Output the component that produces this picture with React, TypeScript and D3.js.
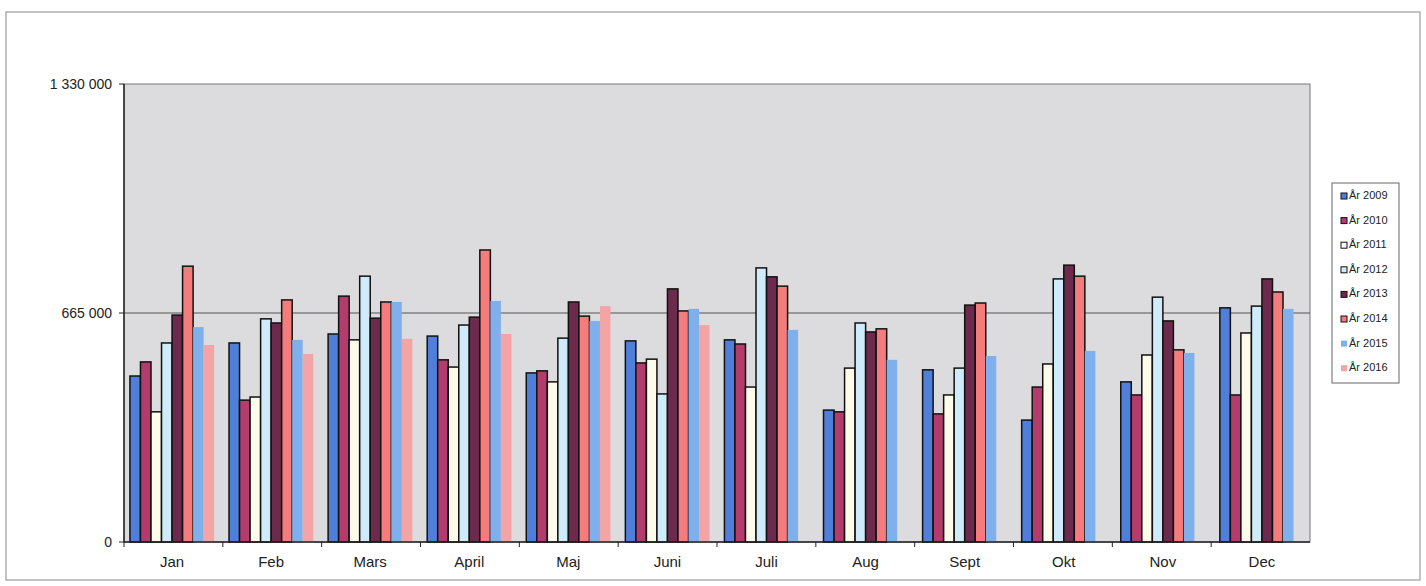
import * as d3 from "d3";

const months = ["Jan", "Feb", "Mars", "April", "Maj", "Juni", "Juli", "Aug", "Sept", "Okt", "Nov", "Dec"];
const years = ["År 2009", "År 2010", "År 2011", "År 2012", "År 2013", "År 2014", "År 2015", "År 2016"];
const y2009 = [482000, 578000, 604000, 598000, 491000, 584000, 587000, 383000, 500000, 354000, 465000, 680000];
const y2010 = [523000, 412000, 714000, 529000, 497000, 520000, 575000, 378000, 372000, 450000, 427000, 427000];
const y2011 = [378000, 421000, 587000, 508000, 465000, 531000, 450000, 505000, 427000, 517000, 543000, 607000];
const y2012 = [578000, 648000, 772000, 630000, 592000, 430000, 796000, 636000, 505000, 764000, 711000, 685000];
const y2013 = [659000, 636000, 650000, 653000, 697000, 735000, 770000, 610000, 688000, 804000, 642000, 764000];
const y2014 = [801000, 703000, 697000, 848000, 656000, 671000, 743000, 619000, 694000, 772000, 558000, 726000];
const y2015 = [624000, 587000, 697000, 700000, 642000, 677000, 616000, 529000, 540000, 555000, 549000, 677000];
const y2016 = [572000, 546000, 590000, 604000, 685000, 630000, null, null, null, null, null, null];
const series = [y2009, y2010, y2011, y2012, y2013, y2014, y2015, y2016];
const yTicks = [0, 665000, 1330000];

const fills = ["#4f7fd8", "#b23c6c", "#fffbea", "#cfeaf8", "#6c2a4c", "#f47c7c", "#7fb0ec", "#f4a4a4"];
const bordered = [true, true, true, true, true, true, false, false];

const fmt = (v: number) => d3.format(",")(v).replace(/,/g, " ");

export default function App() {
  const left = 124, right = 1310, top = 84, bottom = 542;
  const x = d3.scaleBand<string>().domain(months).range([left, right]).paddingInner(0.15).paddingOuter(0.06);
  const xi = d3.scaleBand<number>().domain(d3.range(8)).range([0, x.bandwidth()]);
  const y = d3.scaleLinear().domain([0, 1330000]).range([bottom, top]);
  const font = "Liberation Sans, Arial, sans-serif";
  return (
    <svg width={1426} height={586} style={{ position: "absolute", left: 0, top: 0, background: "#fff" }}>
      <rect x={6} y={12} width={1414} height={568} fill="#fff" stroke="#888" strokeWidth={1} />
      <rect x={left} y={top} width={right - left} height={bottom - top} fill="#dcdcdf" stroke="#777" strokeWidth={1} />
      <line x1={left} x2={right} y1={y(665000)} y2={y(665000)} stroke="#555" strokeWidth={1} />
      {series.map((s, si) =>
        s.map((v, mi) =>
          v == null ? null : (
            <rect key={si + "-" + mi} x={x(months[mi])! + xi(si)!} y={y(v)} width={xi.bandwidth()} height={bottom - y(v)}
              fill={fills[si]} stroke={bordered[si] ? "#111" : "none"} strokeWidth={1.5} />
          )
        )
      )}
      <line x1={left} x2={left} y1={top} y2={bottom} stroke="#222" strokeWidth={1.5} />
      <line x1={left} x2={right} y1={bottom} y2={bottom} stroke="#222" strokeWidth={1.5} />
      {yTicks.map((t) => (
        <g key={t}>
          <line x1={left - 5} x2={left} y1={y(t)} y2={y(t)} stroke="#222" />
          <text x={left - 12} y={y(t) + 5} textAnchor="end" fontSize={14} fontFamily={font} fill="#222">{fmt(t)}</text>
        </g>
      ))}
      {months.map((m, i) => (
        <g key={m}>
          <line x1={left + (i * (right - left)) / 12} x2={left + (i * (right - left)) / 12} y1={bottom} y2={bottom + 5} stroke="#222" />
          <text x={x(m)! + x.bandwidth() / 2} y={bottom + 25} textAnchor="middle" fontSize={15} fontFamily={font} fill="#222">{m}</text>
        </g>
      ))}
      <rect x={1332} y={183} width={67} height={200} fill="#fff" stroke="#666" />
      {years.map((yr, i) => (
        <g key={yr} transform={`translate(1341,${197 + i * 24.6})`}>
          <rect x={0} y={-4} width={6} height={6} fill={fills[i]} stroke={bordered[i] ? "#111" : "none"} />
          <text x={8} y={2} fontSize={11} fontFamily={font} fill="#222">{yr}</text>
        </g>
      ))}
    </svg>
  );
}
